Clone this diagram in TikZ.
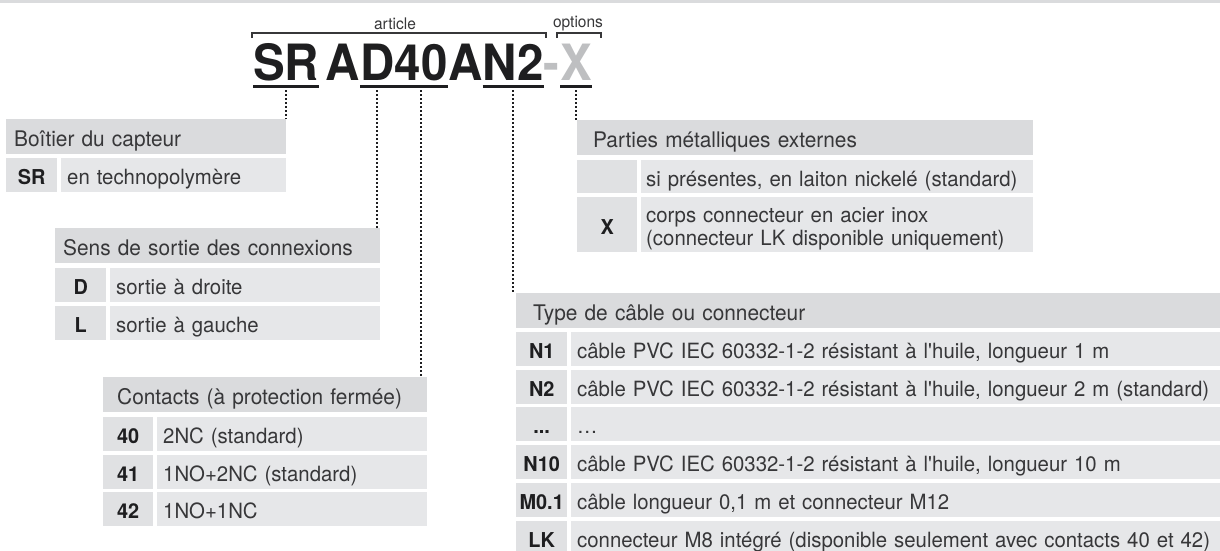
\documentclass[tikz,border=0pt]{standalone}
\usepackage{fontspec}
\setmainfont[FakeStretch=0.97]{TeX Gyre Heros}
\newfontfamily\grandcode[FakeStretch=0.95]{TeX Gyre Heros}
\usepackage{tikz}
\usetikzlibrary{positioning}

\definecolor{grisTete}{RGB}{218,219,221}
\definecolor{grisLigne}{RGB}{230,231,233}
\definecolor{grisCode}{RGB}{224,225,227}
\definecolor{texteGris}{RGB}{55,55,57}
\definecolor{noirCode}{RGB}{30,30,32}
\definecolor{grisOption}{RGB}{190,191,193}

\begin{document}
\begin{tikzpicture}[x=1pt, y=-1pt,
            every node/.style={inner sep=0pt, text=texteGris},
            larg/.code 2 args={\pgfmathsetmacro\largTot{#1}\pgfmathsetmacro\largTxt{#1-2*#2}%
                \tikzset{minimum width=\largTot pt, text width=\largTxt pt, inner xsep=#2pt}},
            entete/.style={fill=grisTete, anchor=north west, align=left, minimum height=35pt,
                font=\fontsize{21.5}{25}\selectfont, text height=20pt, text depth=0pt},
            texte/.style={fill=grisLigne, anchor=north west, align=left, minimum height=34pt,
                font=\fontsize{21}{23}\selectfont, text height=19pt, text depth=0pt},
            code/.style={fill=grisCode, anchor=north west, minimum width=#1, minimum height=34pt,
                font=\bfseries\fontsize{20.5}{23}\selectfont, text=noirCode, text height=19pt, text depth=0pt},
            lettre/.style={font=\grandcode\bfseries\fontsize{50}{50}\selectfont, text=noirCode,
                text height=36pt, text depth=0pt},
            option/.style={lettre, text=grisOption},
            etiquette/.style={font=\fontsize{16}{18}\selectfont},
            souligne/.style={draw=noirCode, line width=3pt},
            pointille/.style={draw=noirCode, line width=2pt, dash pattern=on 2pt off 2pt},
            accolade/.style={draw=texteGris, line width=1.5pt}]
            \useasboundingbox (0,0) rectangle (1220,550);
            \fill[grisTete] (0,0) rectangle (1220,3);

            % code article
            \node[lettre, anchor=base west] (codeSR) at (253,80) {SR};
            \node[lettre]  (codeA)     [right=6pt of codeSR]   {A};
            \node[lettre]  (codeD)     [right=0pt of codeA]    {D};
            \node[lettre]  (code40)    [right=0pt of codeD]    {40};
            \node[lettre]  (codeA2)    [right=0pt of code40]   {A};
            \node[lettre]  (codeN2)    [right=0pt of codeA2]   {N2};
            \node[option]  (codeTiret) [right=0pt of codeN2]   {-};
            \node[option]  (codeX)     [right=0pt of codeTiret] {X};
            \node[etiquette] (article) at (395,24) {article};
            \node[etiquette] (options) at (578,24) {options};
            \draw[accolade] (252,38) |- (546,33) -- (546,38);
            \draw[accolade] (557,38) |- (601,33) -- (601,38);
            \foreach \c in {codeSR,codeD,code40,codeN2,codeX}
                \draw[souligne] ([yshift=-6pt]\c.south west) -- ([yshift=-6pt]\c.south east);

            % boitier
            \node[entete, larg={280}{8}] (boitierTete) at (6,119) {Boîtier du capteur};
            \node[code=51pt] (boitierSR) at (6,158) {SR};
            \node[texte, larg={225}{6}] (boitierSRtxt) at (61,158) {en technopolymère};

            % sens de sortie
            \node[entete, larg={325}{8}] (sensTete) at (55,228) {Sens de sortie des connexions};
            \node[code=51pt] (sensD) at (55,268) {D};
            \node[texte, larg={270}{6}] (sensDtxt) at (110,268) {sortie à droite};
            \node[code=51pt] (sensL) at (55,306) {L};
            \node[texte, larg={270}{6}] (sensLtxt) at (110,306) {sortie à gauche};

            % contacts
            \node[entete, larg={324}{14}] (contTete) at (103,377) {Contacts (à protection fermée)};
            \node[code=50pt] (cont40) at (103,417) {40};
            \node[texte, larg={270}{6}] (cont40txt) at (157,417) {2NC (standard)};
            \node[code=50pt] (cont41) at (103,455) {41};
            \node[texte, larg={270}{6}] (cont41txt) at (157,455) {1NO+2NC (standard)};
            \node[code=50pt] (cont42) at (103,492) {42};
            \node[texte, larg={270}{6}] (cont42txt) at (157,492) {1NO+1NC};

            % parties metalliques
            \node[entete, larg={456}{16}] (partTete) at (577,120) {Parties métalliques externes};
            \node[code=60pt, minimum height=33pt] (partVide) at (577,160) {};
            \node[texte, larg={392}{5}, minimum height=33pt] (partVidetxt) at (641,160)
                {si présentes, en laiton nickelé (standard)};
            \node[code=60pt, minimum height=55pt] (partX) at (577,197) {X};
            \node[texte, larg={392}{5}, minimum height=55pt, text depth=23pt] (partXtxt) at (641,197)
                {corps connecteur en acier inox\\(connecteur LK disponible uniquement)};

            % type de cable
            \node[entete, larg={704}{17}] (typeTete) at (516,293) {Type de câble ou connecteur};
            \node[code=51pt] (typeN1) at (516,332) {N1};
            \node[texte, larg={664}{6}] (typeN1txt) at (571,332)
                {câble PVC IEC 60332-1-2 résistant à l\textquotesingle huile, longueur 1 m};
            \node[code=51pt] (typeN2) at (516,370) {N2};
            \node[texte, larg={664}{6}] (typeN2txt) at (571,370)
                {câble PVC IEC 60332-1-2 résistant à l\textquotesingle huile, longueur 2 m (standard)};
            \node[code=51pt] (typeEtc) at (516,407) {...};
            \node[texte, larg={664}{6}] (typeEtctxt) at (571,407) {\ldots};
            \node[code=51pt] (typeN10) at (516,445) {N10};
            \node[texte, larg={664}{6}] (typeN10txt) at (571,445)
                {câble PVC IEC 60332-1-2 résistant à l\textquotesingle huile, longueur 10 m};
            \node[code=51pt] (typeM01) at (516,483) {M0.1};
            \node[texte, larg={664}{6}] (typeM01txt) at (571,483)
                {câble longueur 0,1 m et connecteur M12};
            \node[code=51pt] (typeLK) at (516,521) {LK};
            \node[texte, larg={664}{6}] (typeLKtxt) at (571,521)
                {connecteur M8 intégré (disponible seulement avec contacts 40 et 42)};

            % renvois
            \draw[pointille] ([yshift=-10pt]codeSR.south) -- (codeSR.south |- boitierTete.north);
            \draw[pointille] ([yshift=-10pt]codeD.south)  -- (codeD.south |- sensTete.north);
            \draw[pointille] ([yshift=-10pt]code40.south) -- (code40.south |- contTete.north);
            \draw[pointille] ([yshift=-10pt]codeN2.south) -- (codeN2.south |- typeTete.north);
            \draw[pointille] ([yshift=-10pt]codeX.south)  -- (codeX.south |- partTete.north);
        \end{tikzpicture}
\end{document}
